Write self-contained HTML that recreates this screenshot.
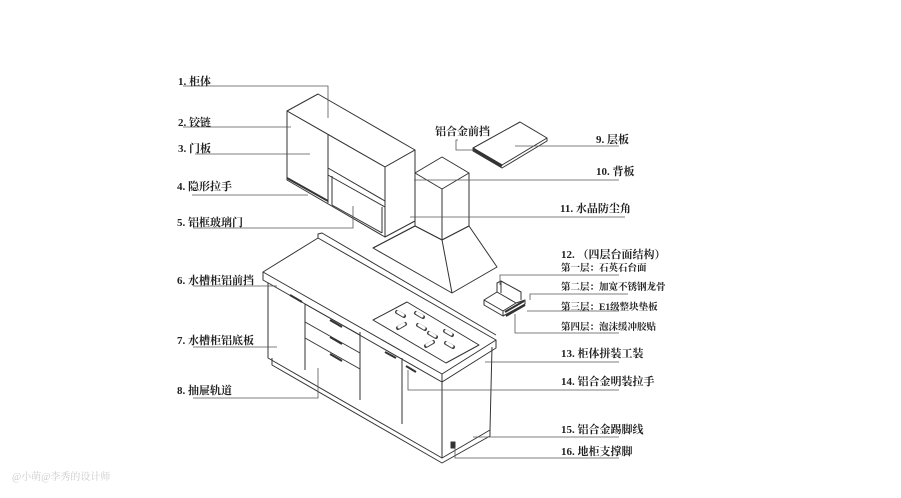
<!DOCTYPE html>
<html><head><meta charset="utf-8"><style>
html,body{margin:0;padding:0;background:#fff;width:901px;height:498px;overflow:hidden}
svg{display:block}
text{font-family:"Liberation Serif","Noto Serif CJK SC",serif;font-size:11px;font-weight:bold;fill:#222}
.s{font-size:9.5px}
</style></head><body>
<svg width="901" height="498" viewBox="0 0 901 498" xmlns="http://www.w3.org/2000/svg">
<g stroke="#333" stroke-width="1" fill="none" stroke-linejoin="round">
<!-- upper cabinet -->
<polygon points="287,111 318,94 415,150 385,167" fill="#fff"/>
<polygon points="385,167 415,150 415,221 385,237" fill="#fff"/>
<polygon points="287,111 385,167 385,237 287,180" fill="#fff"/>
<line x1="328" y1="135" x2="328" y2="203"/>
<polyline points="328,168 385,201 385,207 328,175"/>
<line x1="287" y1="178" x2="328" y2="201" stroke-width="2"/>
<line x1="332" y1="176" x2="332" y2="205"/>
<line x1="332" y1="205" x2="382" y2="233"/>
<line x1="382" y1="207" x2="382" y2="233"/>
<!-- hood -->
<polygon points="415,173 442,157 469,173 442,189" fill="#fff"/>
<polyline points="415,173 415,226 442,240 469,226 469,173"/>
<line x1="442" y1="189" x2="442" y2="240"/>
<polygon points="373,248 415,226 442,240 469,226 497,267 452,293" fill="#fff"/>
<line x1="442" y1="240" x2="452" y2="293"/>
<line x1="415" y1="226" x2="373" y2="248"/>
<!-- shelf -->
<polygon points="473,148 520,122 547,138 502,165" fill="#fff"/>
<polyline points="473,148 473,151 502,168 547,141 547,138"/>
<line x1="473" y1="149" x2="502" y2="166" stroke-width="3"/>
<!-- counter -->
<polygon points="263,272 318,238 496,340 442,374" fill="#fff"/>
<polyline points="318,238 318,234 322,233 496,335"/>
<polyline points="263,272 263,280 442,382 442,374"/>
<polyline points="442,382 496,348 496,340"/>
<!-- cabinet body -->
<polyline points="268,283 268,358 442,458 442,382"/>
<polyline points="442,458 490,430 492,347"/>
<polyline points="272,358 272,365 442,463 490,436 490,430"/>
<line x1="305" y1="304" x2="305" y2="370"/>
<line x1="360" y1="332" x2="360" y2="400"/>
<line x1="402" y1="358" x2="402" y2="424"/>
<line x1="305" y1="304" x2="360" y2="335"/>
<line x1="305" y1="322" x2="360" y2="353"/>
<line x1="305" y1="338" x2="360" y2="369"/>
<!-- cooktop -->
<polygon points="373,320 407,302 479,345 446,363" fill="#fff"/>
<g stroke-width="4" stroke-linecap="round" stroke="#444">
<line x1="397" y1="312" x2="404" y2="316"/><line x1="416" y1="313" x2="423" y2="317"/>
<line x1="398" y1="328" x2="405" y2="324"/><line x1="418" y1="325" x2="425" y2="329"/>
<line x1="429" y1="333" x2="436" y2="337"/><line x1="445" y1="331" x2="452" y2="335"/>
<line x1="426" y1="346" x2="433" y2="342"/><line x1="446" y1="343" x2="453" y2="347"/>
</g>
<g stroke-width="3" stroke="#fff" stroke-linecap="round">
<line x1="398" y1="312" x2="403" y2="315"/><line x1="417" y1="313" x2="422" y2="316"/>
<line x1="399" y1="327" x2="404" y2="324"/><line x1="419" y1="325" x2="424" y2="328"/>
<line x1="430" y1="333" x2="435" y2="336"/><line x1="446" y1="331" x2="451" y2="334"/>
<line x1="427" y1="345" x2="432" y2="342"/><line x1="447" y1="343" x2="452" y2="346"/>
</g>
<!-- handles -->
<g stroke-width="2">
<line x1="290" y1="295" x2="302" y2="302"/>
<line x1="330" y1="320" x2="342" y2="327"/>
<line x1="330" y1="337" x2="342" y2="344"/>
<line x1="330" y1="354" x2="342" y2="361"/>
<line x1="385" y1="352" x2="396" y2="358"/>
<line x1="406" y1="366" x2="416" y2="372"/>
</g>
<rect x="451" y="442" width="4" height="6" fill="#333"/>
<!-- countertop sample -->
<polygon points="484,300 497,292 516,303 503,311" fill="#fff"/>
<polyline points="484,300 484,305 503,316 503,311"/>
<polyline points="497,292 497,283 501,281 521,292 521,300"/>
<line x1="501" y1="281" x2="501" y2="293"/>
<polyline points="503,316 525,304 525,300 516,303"/>
<line x1="505" y1="312" x2="524" y2="301" stroke-width="2"/>
<line x1="506" y1="316" x2="525" y2="305" stroke-width="2"/>
</g>
<!-- leader lines -->
<g stroke="#555" stroke-width="0.8" fill="none">
<polyline points="183,86 328,86 328,118"/>
<line x1="183" y1="127" x2="291" y2="127"/>
<line x1="195" y1="154" x2="310" y2="154"/>
<line x1="192" y1="195" x2="308" y2="195"/>
<polyline points="193,228 353,228 353,206"/>
<polyline points="458,140 456,140 456,150 474,150"/>
<line x1="515" y1="146" x2="619" y2="146"/>
<line x1="414" y1="180" x2="619" y2="180"/>
<line x1="410" y1="217" x2="625" y2="217"/>
<polyline points="500,285 500,275 619,275"/>
<polyline points="530,300 530,294 628,294"/>
<line x1="527" y1="311" x2="619" y2="311"/>
<polyline points="515,314 515,333 619,333"/>
<line x1="485" y1="362" x2="619" y2="362"/>
<polyline points="408,370 408,390 619,390"/>
<line x1="473" y1="437" x2="619" y2="437"/>
<polyline points="455,447 455,458 619,458"/>
<line x1="193" y1="286" x2="277" y2="286"/>
<line x1="193" y1="347" x2="277" y2="347"/>
<polyline points="193,398 318,398 318,368"/>
</g>
<text x="178" y="85">1. 柜体</text>
<text x="178" y="126">2. 铰链</text>
<text x="178" y="152">3. 门板</text>
<text x="177" y="190">4. 隐形拉手</text>
<text x="177" y="226">5. 铝框玻璃门</text>
<text x="177" y="284">6. 水槽柜铝前挡</text>
<text x="177" y="344">7. 水槽柜铝底板</text>
<text x="177" y="394">8. 抽屉轨道</text>
<text x="435" y="135">铝合金前挡</text>
<text x="596" y="143">9. 层板</text>
<text x="596" y="175">10. 背板</text>
<text x="560" y="212">11. 水晶防尘角</text>
<text x="561" y="258">12. （四层台面结构）</text>
<text class="s" x="561" y="271">第一层：石英石台面</text>
<text class="s" x="561" y="290">第二层：加宽不锈钢龙骨</text>
<text class="s" x="561" y="310">第三层：E1级整块垫板</text>
<text class="s" x="561" y="330">第四层：泡沫缓冲胶贴</text>
<text x="561" y="357">13. 柜体拼装工装</text>
<text x="561" y="385">14. 铝合金明装拉手</text>
<text x="561" y="433">15. 铝合金踢脚线</text>
<text x="561" y="455">16. 地柜支撑脚</text>
<text x="12" y="480" style="font-size:10px;font-weight:normal;fill:#ccc">@小萌@李秀的设计师</text>
</svg>
</body></html>
